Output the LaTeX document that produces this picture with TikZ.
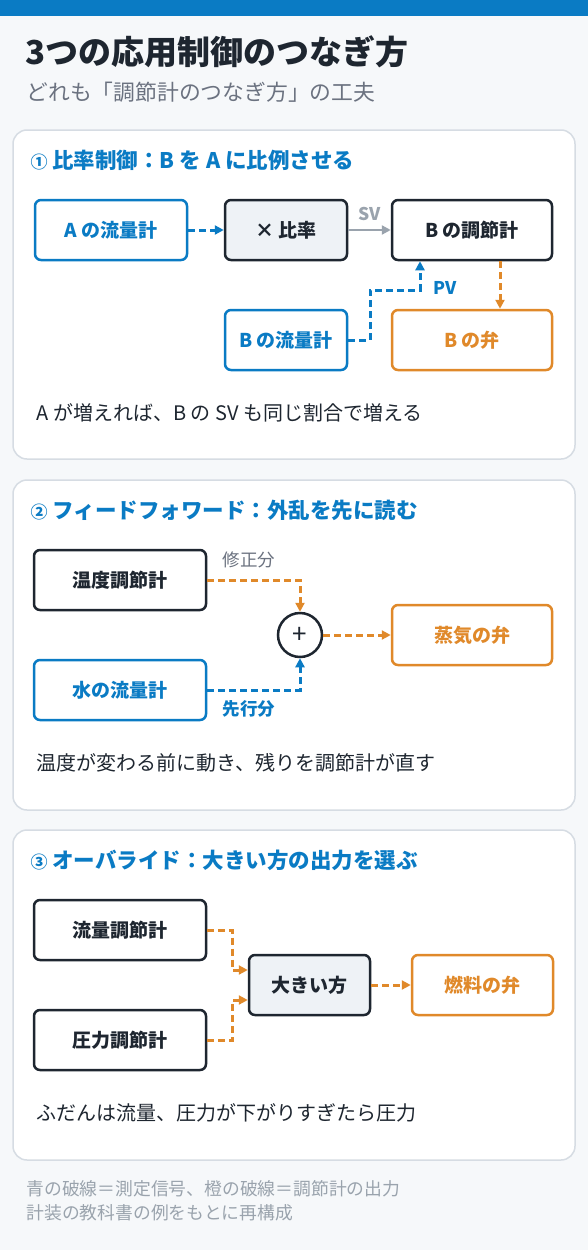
\documentclass[tikz,border=0pt]{standalone}
\usepackage{fontspec}
\setmainfont{Noto Sans CJK JP}
\usetikzlibrary{calc}
\usetikzlibrary{arrows.meta}
\definecolor{cblue}{HTML}{0A7BC4}
\definecolor{corange}{HTML}{E0892A}
\definecolor{cdark}{HTML}{1E2630}
\definecolor{cgray}{HTML}{6B7280}
\definecolor{clight}{HTML}{9AA3AD}
\definecolor{cfill}{HTML}{EEF2F6}
\definecolor{cline}{HTML}{D6DCE3}
\definecolor{cback}{HTML}{F6F8FA}
\newcommand{\circnum}[1]{{\fontsize{17}{17}\selectfont #1}}

\begin{document}
\begin{tikzpicture}[x=1pt,y=-1pt,
     >={Triangle[length=9pt,width=9pt]},
     panel/.style={draw=cline,fill=white,line width=1.5pt,rounded corners=14pt},
     head/.style={anchor=west,text=cblue,font=\bfseries\fontsize{21.5}{24}\selectfont},
     body/.style={anchor=west,text=cdark,font=\fontsize{20}{24}\selectfont},
     note/.style={anchor=west,text=clight,font=\fontsize{17.8}{21}\selectfont},
     ctlbox/.style={draw=cdark,fill=white,rounded corners=6pt,line width=2.5pt,
       minimum height=60pt,inner sep=0pt,text=cdark,font=\bfseries\fontsize{19}{19}\selectfont},
     measbox/.style={ctlbox,draw=cblue,text=cblue},
     valvebox/.style={ctlbox,draw=corange,text=corange},
     calcbox/.style={ctlbox,fill=cfill},
     lbl/.style={font=\bfseries\fontsize{17.5}{18}\selectfont},
     meassig/.style={draw=cblue,line width=3pt,dash pattern=on 7pt off 4pt,->},
     outsig/.style={draw=corange,line width=3pt,dash pattern=on 7pt off 4pt,->},
     svsig/.style={draw=clight,line width=2.5pt,->}
   ]
   \useasboundingbox (0,0) rectangle (588,1250);
   \fill[cback] (0,0) rectangle (588,1250);
   \fill[cblue] (0,0) rectangle (588,16);
   % Title.
   \node[anchor=west,text=cdark,font=\bfseries\fontsize{33}{36}\selectfont] (title) at (22,52) {3つの応用制御のつなぎ方};
   \node[anchor=west,text=cgray,font=\fontsize{21.8}{24}\selectfont] (subtitle) at (23,92) {どれも「調節計のつなぎ方」の工夫};
   % Panels.
   \draw[panel] (13,130) rectangle (575,459);
   \draw[panel] (13,480) rectangle (575,810);
   \draw[panel] (13,830) rectangle (575,1160);
   % Ratio control.
   \node[head] (head1) at (27,160) {\circnum{①} 比率制御：B を A に比例させる};
   \node[measbox,minimum width=152pt] (aflow) at (111,230) {A の流量計};
   \node[calcbox,minimum width=122pt] (ratio) at (286,230) {× 比率};
   \node[ctlbox,minimum width=160pt] (bctl) at (472,230) {B の調節計};
   \node[measbox,minimum width=122pt] (bflow) at (286,340) {B の流量計};
   \node[valvebox,minimum width=160pt] (bvalve) at (472,340) {B の弁};
   \coordinate (pvbend) at (370,290);
   \draw[meassig] (aflow) -- (ratio);
   \draw[svsig] (ratio) -- (bctl) node[midway,above=5pt,lbl,text=clight] (sv) {SV};
   \draw[meassig] (bflow.east) -| (pvbend) -| ([xshift=-52pt]bctl.south);
   \node[lbl,text=cblue,anchor=west] (pv) at (430,288) {PV};
   \draw[outsig] ([xshift=28pt]bctl.south) -- ([xshift=28pt]bvalve.north);
   \node[body] (text1) at (33,413) {A が増えれば、B の SV も同じ割合で増える};
   % Feedforward.
   \node[head] (head2) at (27,510) {\circnum{②} フィードフォワード：外乱を先に読む};
   \node[ctlbox,minimum width=172pt] (tctl) at (120,580) {温度調節計};
   \node[measbox,minimum width=172pt] (wflow) at (120,690) {水の流量計};
   \node[circle,draw=cdark,fill=white,line width=2.5pt,minimum size=44pt,inner sep=0pt,
     text=cdark,font=\fontsize{26}{26}\selectfont] (sum) at (300,635) {+};
   \node[valvebox,minimum width=160pt] (steam) at (472,635) {蒸気の弁};
   \draw[outsig] (tctl.east) -| (sum.north);
   \draw[meassig] (wflow.east) -| (sum.south);
   \draw[outsig] (sum) -- (steam);
   \node[text=cgray,font=\fontsize{17.5}{18}\selectfont] (corr) at (249,560) {修正分};
   \node[lbl,text=cblue] (lead) at (249,709) {先行分};
   \node[body] (text2) at (33,763) {温度が変わる前に動き、残りを調節計が直す};
   % Override.
   \node[head] (head3) at (27,860) {\circnum{③} オーバライド：大きい方の出力を選ぶ};
   \node[ctlbox,minimum width=172pt] (fctl) at (120,930) {流量調節計};
   \node[ctlbox,minimum width=172pt] (pctl) at (120,1040) {圧力調節計};
   \node[calcbox,minimum width=121pt] (hisel) at (309.5,985) {大きい方};
   \node[valvebox,minimum width=141pt] (fuel) at (482.5,985) {燃料の弁};
   \draw[outsig] (fctl.east) -- ++(25.5,0) |- ([yshift=15pt]hisel.west);
   \draw[outsig] (pctl.east) -- ++(25.5,0) |- ([yshift=-15pt]hisel.west);
   \draw[outsig] (hisel) -- (fuel);
   \node[body] (text3) at (33,1113) {ふだんは流量、圧力が下がりすぎたら圧力};
   % Footer.
   \node[note] (foot1) at (23,1189) {青の破線＝測定信号、橙の破線＝調節計の出力};
   \node[note] (foot2) at (23,1213) {計装の教科書の例をもとに再構成};
 \end{tikzpicture}
\end{document}
